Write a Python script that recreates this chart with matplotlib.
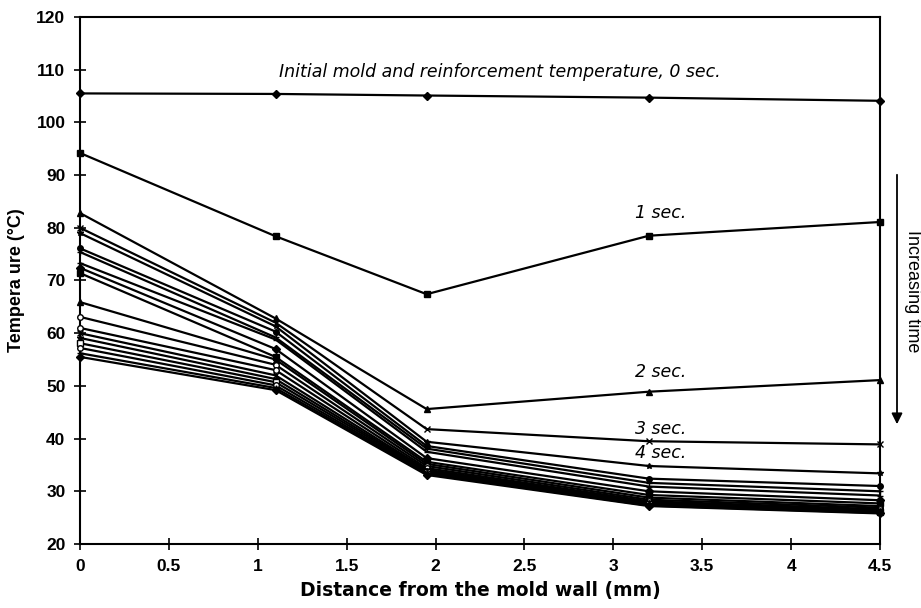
import numpy as np
import matplotlib
matplotlib.use('Agg')
import matplotlib.pyplot as plt

plt.rcParams['font.family'] = ['Liberation Sans', 'DejaVu Sans']

distance = [0.0, 1.1, 1.95, 3.2, 4.5]

temps = [
    [105.5, 105.4, 105.1, 104.7, 104.1],  # 0 sec
    [94.2, 78.4, 67.4, 78.5, 81.1],       # 1 sec
    [82.8, 62.8, 45.6, 48.9, 51.1],       # 2 sec
    [80.0, 62.0, 41.8, 39.5, 38.9],       # 3 sec
    [79.0, 61.3, 39.4, 34.8, 33.4],       # 4 sec
    [76.1, 60.3, 38.6, 32.4, 31.0],
    [75.4, 59.2, 38.1, 31.6, 30.0],
    [73.3, 58.8, 37.5, 30.9, 29.2],
    [72.4, 57.0, 36.3, 30.0, 28.3],
    [71.4, 55.5, 35.6, 29.3, 27.7],
    [65.9, 55.0, 35.2, 28.8, 27.2],
    [63.1, 54.0, 34.8, 28.4, 26.9],
    [61.0, 53.0, 34.4, 28.1, 26.6],
    [60.0, 52.0, 34.1, 27.9, 26.4],
    [59.1, 51.3, 33.9, 27.7, 26.2],
    [58.1, 50.7, 33.7, 27.5, 26.1],
    [57.2, 50.1, 33.5, 27.4, 26.0],
    [56.2, 49.6, 33.3, 27.3, 25.9],
    [55.5, 49.2, 33.1, 27.2, 25.8],
]

markers = ['D', 's', '^', 'x', '*', 'o', '+', '_', 'D', 's', '^',
           'o', 'o', 'x', '*', 's', 'o', '+', 'D']
hollow = [False, False, False, False, False, False, False, False, False, False, False,
          True, True, False, False, True, True, False, False]

labels = ['Initial mold and reinforcement temperature, 0 sec.', '1 sec.', '2 sec.', '3 sec.', '4 sec.']
label_pos = [(2.36, 109.6), (3.12, 82.8), (3.12, 52.6), (3.12, 41.9), (3.12, 37.2)]
label_ha = ['center', 'left', 'left', 'left', 'left']

fig = plt.figure(figsize=(9.21, 6.08), dpi=100)
ax = fig.add_axes([80 / 921, 1 - 544 / 608, 800 / 921, 527 / 608])

for i, row in enumerate(temps):
    face = 'white' if hollow[i] else 'black'
    ax.plot(distance, row, color='black', linewidth=1.6, marker=markers[i],
            markersize=4, markerfacecolor=face, markeredgecolor='black',
            markeredgewidth=1.0, clip_on=False, zorder=3)

for txt, (x, y), ha in zip(labels, label_pos, label_ha):
    ax.text(x, y, txt, fontsize=12.5, style='italic', ha=ha, va='center',
            family='DejaVu Sans')

ax.set_xlim(0, 4.5)
ax.set_ylim(20, 120)
ax.set_xticks(np.arange(0, 4.51, 0.5))
ax.set_xticklabels(['0', '0.5', '1', '1.5', '2', '2.5', '3', '3.5', '4', '4.5'])
ax.set_yticks(np.arange(20, 121, 10))
ax.tick_params(direction='inout', length=9, width=1.2, labelsize=12.5, pad=6)
for lbl in ax.get_xticklabels() + ax.get_yticklabels():
    lbl.set_fontweight('bold')
for sp in ax.spines.values():
    sp.set_linewidth(1.5)

ax.set_xlabel('Distance from the mold wall (mm)', fontsize=13.5, fontweight='bold',
              labelpad=5, family='DejaVu Sans')
ax.set_ylabel('Tempera ure (°C)', fontsize=13, fontweight='bold', labelpad=8)

# arrow and note outside the right axis
ax.annotate('', xy=(897 / 921, 1 - 427 / 608), xytext=(897 / 921, 1 - 172 / 608),
            xycoords='figure fraction', textcoords='figure fraction',
            arrowprops=dict(arrowstyle='-|>', color='black', lw=1.3, mutation_scale=16))
fig.text(912 / 921, 1 - 291 / 608, 'Increasing time', rotation=270, fontsize=13,
         ha='center', va='center')

fig.savefig('out.png', dpi=100)
